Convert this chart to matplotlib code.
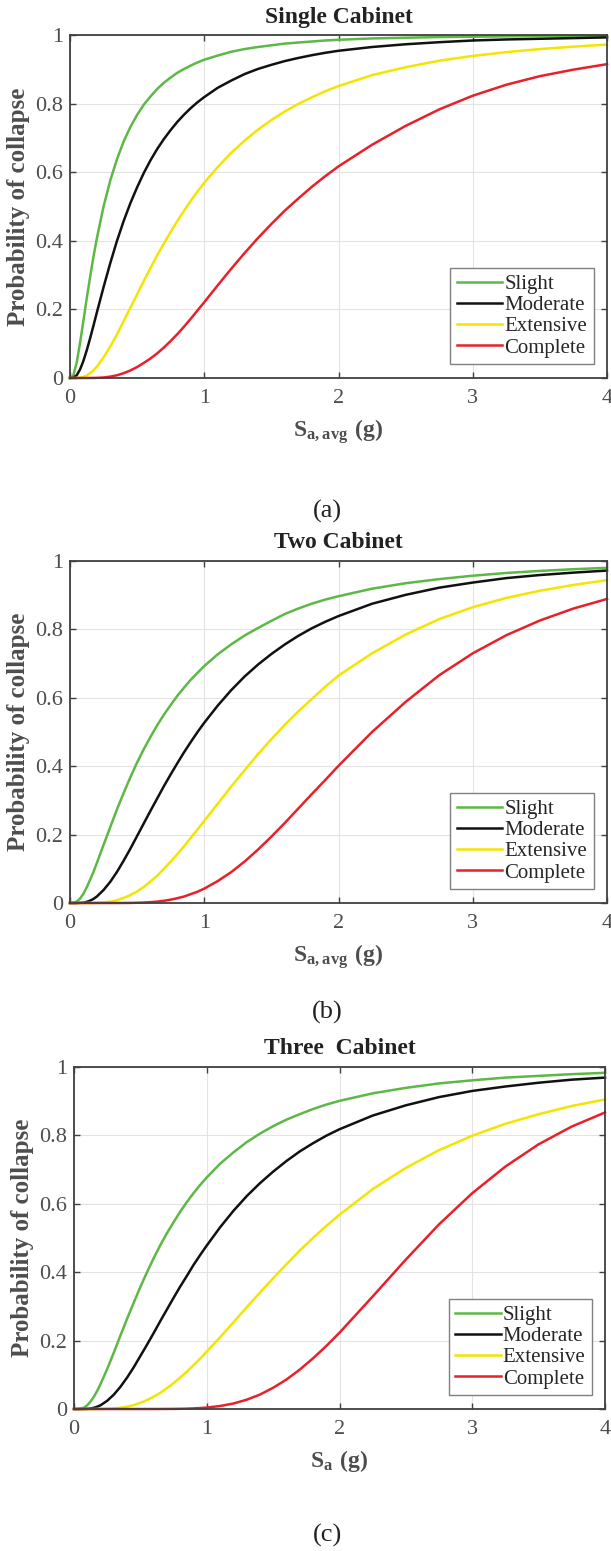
import numpy as np
import matplotlib
matplotlib.use('Agg')
import matplotlib.pyplot as plt

plt.rcParams['font.family'] = ['Liberation Serif', 'DejaVu Serif']
plt.rcParams['mathtext.fontset'] = 'custom'
plt.rcParams['mathtext.rm'] = 'Liberation Serif'
plt.rcParams['mathtext.bf'] = 'Liberation Serif:bold'

# ---- data (Sa in g, probability) ----
sa = [0, 0.025, 0.05, 0.075, 0.1, 0.125, 0.15, 0.175, 0.2, 0.25, 0.3, 0.35, 0.4,
      0.45, 0.5, 0.55, 0.6, 0.65, 0.7, 0.75, 0.8, 0.85, 0.9, 0.95, 1.0,
      1.1, 1.2, 1.3, 1.4, 1.5, 1.6, 1.7, 1.8, 1.9, 2.0,
      2.25, 2.5, 2.75, 3.0, 3.25, 3.5, 3.75, 4.0]

single_slight = [0, .008, .045, .103, .167, .233, .295, .354, .407, .5, .576, .638, .690,
                 .732, .767, .797, .821, .843, .861, .876, .890, .901, .911, .920, .928,
                 .940, .951, .959, .965, .970, .975, .978, .981, .984, .986,
                 .990, .992, .994, .995, .996, .997, .998, .998]
single_moderate = [0, .001, .008, .025, .050, .081, .116, .153, .191, .265, .335, .400, .458,
                   .510, .556, .598, .635, .668, .697, .723, .747, .768, .787, .804, .819,
                   .846, .867, .886, .901, .913, .924, .933, .941, .948, .954,
                   .965, .973, .979, .984, .987, .989, .991, .993]
single_extensive = [0, 0, 0, .001, .003, .0077, .014, .0225, .033, .060, .092, .127, .166,
                    .205, .244, .283, .321, .358, .392, .426, .458, .488, .517, .544, .569,
                    .615, .656, .692, .724, .752, .777, .799, .818, .836, .851,
                    .883, .906, .925, .939, .950, .959, .966, .972]
single_complete = [0, 0, 0, 0, 0, 0, .0001, .0002, .0005, .0015, .004, .008, .014,
                   .022, .032, .044, .057, .072, .089, .108, .128, .150, .173, .197, .221,
                   .270, .318, .364, .408, .449, .488, .523, .557, .588, .617,
                   .680, .735, .783, .823, .855, .880, .899, .915]

two_slight = [0, .0004, .004, .013, .027, .046, .068, .091, .117, .170, .222, .274, .322,
              .368, .411, .450, .486, .520, .551, .579, .606, .630, .653, .673, .693,
              .727, .756, .782, .804, .825, .845, .861, .875, .887, .897,
              .919, .935, .947, .957, .965, .971, .976, .980]
two_moderate = [0, 0, 0, .0004, .001, .0034, .007, .012, .019, .038, .062, .091, .124,
                .159, .196, .233, .270, .306, .342, .376, .409, .441, .471, .5, .527,
                .577, .622, .662, .697, .728, .756, .781, .803, .822, .839,
                .875, .901, .922, .937, .950, .959, .966, .972]
two_extensive = [0, 0, 0, 0, 0, 0, .0001, .0002, .0005, .002, .004, .008, .015,
                 .023, .034, .047, .063, .080, .100, .121, .143, .166, .191, .215, .240,
                 .290, .340, .388, .435, .479, .521, .560, .596, .632, .665,
                 .730, .785, .830, .865, .892, .913, .930, .944]
two_complete = [0, 0, 0, 0, 0, 0, 0, 0, 0, 0, 0, 0, .0001,
                .0003, .0007, .0014, .0025, .004, .0065, .0097, .014, .019, .026, .033, .042,
                .064, .090, .121, .156, .194, .234, .276, .318, .359, .401,
                .5, .588, .666, .730, .783, .826, .861, .889]

three_slight = [0, 0, .001, .004, .011, .022, .036, .053, .073, .117, .165, .215, .264,
                .311, .357, .400, .441, .479, .514, .546, .577, .605, .631, .655, .677,
                .717, .750, .780, .805, .827, .846, .862, .877, .890, .901,
                .923, .939, .952, .961, .969, .974, .979, .983]
three_moderate = [0, 0, 0, .0001, .0006, .0016, .0036, .0067, .011, .024, .042, .065, .092,
                  .122, .155, .188, .222, .257, .291, .325, .358, .389, .421, .450, .478,
                  .531, .579, .622, .660, .694, .725, .753, .777, .799, .818,
                  .858, .888, .912, .930, .943, .954, .963, .969]
three_extensive = [0, 0, 0, 0, 0, 0, 0, .0001, .0002, .0006, .0017, .0036, .0068,
                   .0115, .018, .026, .036, .047, .061, .0755, .092, .109, .128, .147, .168,
                   .2095, .253, .297, .340, .382, .423, .463, .500, .535, .568,
                   .643, .705, .757, .799, .834, .862, .886, .905]
three_complete = [0, 0, 0, 0, 0, 0, 0, 0, 0, 0, 0, 0, 0,
                  0, 0, 0, 0, .0001, .0002, .0003, .0006, .001, .0018, .0028, .0042,
                  .0087, .016, .027, .042, .062, .086, .115, .148, .184, .223,
                  .329, .437, .540, .631, .709, .774, .826, .867]

states = ['Slight', 'Moderate', 'Extensive', 'Complete']
colors = ['#5db845', '#111111', '#f2e500', '#e8202a']
yticks = [0, 0.2, 0.4, 0.6, 0.8, 1.0]
yticklabels = ['0', '0.2', '0.4', '0.6', '0.8', '1']
xticks = [0, 1, 2, 3, 4]

panels = [
    ('Single Cabinet', r'$\mathbf{S_{a,avg}}\ \mathbf{(g)}$', '(a)',
     [70/611, 1 - 378/1551, 537/611, 343/1551], 511,
     [single_slight, single_moderate, single_extensive, single_complete]),
    ('Two Cabinet', r'$\mathbf{S_{a,avg}}\ \mathbf{(g)}$', '(b)',
     [70/611, 1 - 903/1551, 537/611, 342/1551], 1012,
     [two_slight, two_moderate, two_extensive, two_complete]),
    ('Three  Cabinet', r'$\mathbf{S_{a}}\ \mathbf{(g)}$', '(c)',
     [74/611, 1 - 1409/1551, 531/611, 342/1551], 1535,
     [three_slight, three_moderate, three_extensive, three_complete]),
]

fig = plt.figure(figsize=(6.11, 15.51), dpi=100)
axis_col = '#404040'
label_col = '#4d4d4d'

for title, xlab, tag, rect, tag_y, series in panels:
    ax = fig.add_axes(rect)
    for vals, name, c in zip(series, states, colors):
        assert len(vals) == len(sa)
        ax.plot(sa, vals, color=c, linewidth=1.8, label=name, clip_on=False,
                solid_joinstyle='round')
    ax.set_xlim(0, 4)
    ax.set_ylim(0, 1)
    ax.set_xticks(xticks)
    ax.set_yticks(yticks)
    ax.set_yticklabels(yticklabels)
    ax.grid(True, color='#e3e3e3', linewidth=0.8)
    ax.set_axisbelow(True)
    for s in ax.spines.values():
        s.set_color(axis_col)
        s.set_linewidth(1.3)
    ax.tick_params(direction='in', length=4, width=1, top=True, right=True,
                   color=axis_col, labelcolor=label_col, labelsize=16)
    ax.tick_params(axis='x', pad=8)
    ax.tick_params(axis='y', pad=5)

    ax.set_title(title, fontsize=17, fontweight='bold', color='#222222', pad=9)
    ax.set_xlabel(xlab, fontsize=17, color=label_col)
    ax.xaxis.set_label_coords(0.5, -0.115)
    ax.xaxis.label.set_va('top')
    ax.set_ylabel('Probability of collapse', fontsize=18, fontweight='bold', color=label_col)
    ax.yaxis.set_label_coords(-0.075, 0.5)

    leg = ax.legend(loc='lower right', bbox_to_anchor=(0.975, 0.041), borderaxespad=0,
                    fontsize=15, labelspacing=0.08, handlelength=2.2, handletextpad=0.1,
                    borderpad=0.3, fancybox=False, framealpha=1, edgecolor='#808080')
    leg.get_frame().set_linewidth(1.0)
    for t in leg.get_texts():
        t.set_color('#262626')

    fig.text(327/611, 1 - tag_y/1551, tag, fontsize=19, ha='center', va='center', color='#222222')

fig.savefig('out.png', dpi=100)
